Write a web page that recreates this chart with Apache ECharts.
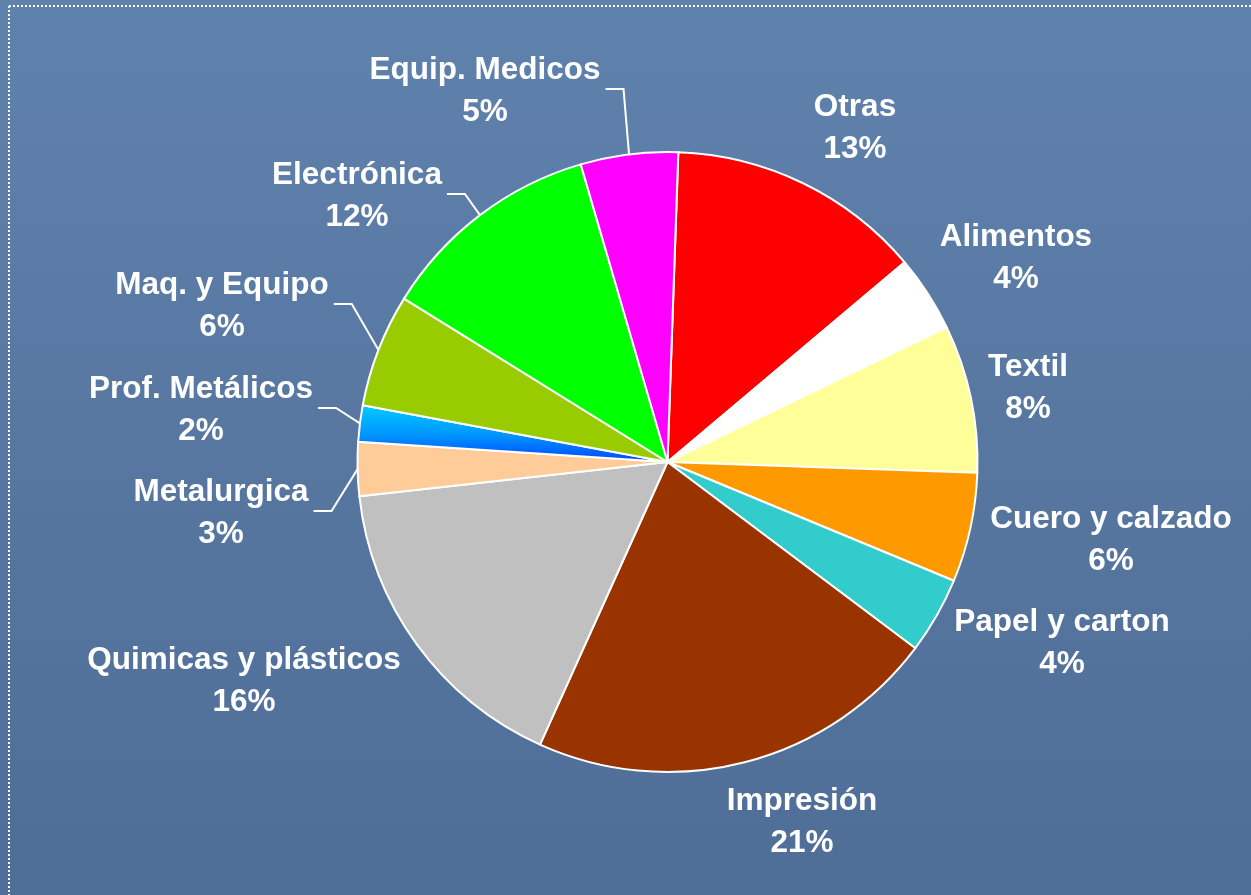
<!DOCTYPE html>
<html>
<head>
<meta charset="utf-8">
<title>Sectores</title>
<script src="https://cdn.jsdelivr.net/npm/echarts@6/dist/echarts.min.js"></script>
<style>
  html, body { margin: 0; padding: 0; }
  #chart { width: 1251px; height: 895px; }
</style>
</head>
<body>
<div id="chart"></div>
<script>
  // clockwise from 12 o'clock
  var sectores = ['Otras', 'Alimentos', 'Textil', 'Cuero y calzado', 'Papel y carton', 'Impresión',
    'Quimicas y plásticos', 'Metalurgica', 'Prof. Metálicos', 'Maq. y Equipo', 'Electrónica', 'Equip. Medicos']
  var participacion = [13.3, 4.0, 7.7, 5.7, 4.0, 21.49, 16.49, 2.8, 1.9, 5.9, 11.65, 5.07]

  var colores = ['#ff0000', '#ffffff', '#ffff99', '#ff9900', '#33cccc', '#993300',
    '#c0c0c0', '#ffcc99', null, '#99cc00', '#00ff00', '#ff00ff']
  // label block centres (px) and which ones get a leader line
  var labelPos = [[855, 128], [1016, 258], [1028, 388], [1111, 540], [1062, 643], [802, 822],
    [244, 681], [221, 513], [201, 410], [222, 306], [357, 196], [485, 91]]
  var conLinea = [false, false, false, false, false, false, false, true, true, true, true, true]

  var cx = 667.5, cy = 462, radio = 310, inicio = 88

  var total = participacion.reduce(function (a, b) { return a + b }, 0)
  var acum = []
  var s = 0
  participacion.forEach(function (v) { acum.push(s); s += v })

  function bordePunto (i) {
    var mid = (acum[i] + participacion[i] / 2) / total * 360
    var ang = (inicio - mid) * Math.PI / 180
    return [cx + radio * Math.cos(ang), cy - radio * Math.sin(ang)]
  }

  var azul = new echarts.graphic.LinearGradient(0, 0, 0, 1, [
    { offset: 0, color: '#00ccff' },
    { offset: 0.5, color: '#0099ff' },
    { offset: 1, color: '#0044ff' }
  ])

  var datos = sectores.map(function (n, i) {
    return {
      name: n,
      value: participacion[i],
      itemStyle: { color: colores[i] || azul },
      labelLine: { show: conLinea[i] }
    }
  })

  var myChart = echarts.init(document.getElementById('chart'))
  myChart.setOption({
    animation: false,
    backgroundColor: new echarts.graphic.LinearGradient(0, 0, 0, 1, [
      { offset: 0, color: '#5f82ac' },
      { offset: 0.5, color: '#5777a1' },
      { offset: 1, color: '#4e6e97' }
    ]),
    graphic: [
      {
        type: 'line',
        shape: { x1: 9, y1: 6, x2: 1251, y2: 6 },
        style: { stroke: '#ffffff', lineWidth: 2, lineDash: [2, 2] }
      },
      {
        type: 'line',
        shape: { x1: 9, y1: 6, x2: 9, y2: 895 },
        style: { stroke: '#ffffff', lineWidth: 2, lineDash: [2, 2] }
      }
    ],
    series: [{
      type: 'pie',
      center: [cx, cy],
      radius: radio,
      startAngle: inicio,
      clockwise: true,
      avoidLabelOverlap: false,
      itemStyle: { borderColor: '#ffffff', borderWidth: 2 },
      label: {
        show: true,
        position: 'outside',
        color: '#ffffff',
        fontFamily: 'Liberation Sans, Arial, sans-serif',
        fontWeight: 'bold',
        fontSize: 31.5,
        lineHeight: 42,
        align: 'center',
        formatter: function (p) {
          return p.name + '\n' + Math.round(p.percent) + '%'
        }
      },
      labelLine: {
        show: true,
        lineStyle: { color: '#ffffff', width: 2 }
      },
      labelLayout: function (p) {
        var i = p.dataIndex
        var pos = labelPos[i]
        var out = { x: pos[0], y: pos[1], align: 'center', verticalAlign: 'middle' }
        if (conLinea[i]) {
          var fin = [pos[0] + p.labelRect.width / 2 + 5, pos[1] - 2]
          var codo = [fin[0] + 18, fin[1]]
          out.labelLinePoints = [bordePunto(i), codo, fin]
        }
        return out
      },
      emphasis: { disabled: true },
      data: datos
    }]
  })
</script>
</body>
</html>
